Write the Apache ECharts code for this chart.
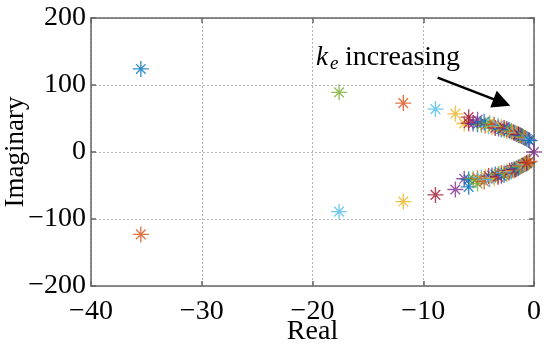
<!DOCTYPE html>
<html>
<head>
<meta charset="utf-8">
<script src="https://cdn.jsdelivr.net/npm/echarts@6/dist/echarts.min.js"></script>
<style>html,body{margin:0;padding:0;background:#fff}#c{width:550px;height:349px}</style>
</head>
<body>
<div id="c"></div>
<script>
// Step-by-step pole locations (k_e increasing); each step has two complex pairs
const fastRe   = [-35.5, -17.6, -11.8, -8.9, -7.1, -5.9, -5.1, -4.5, -4.0, -3.6, -3.25, -2.95, -2.7, -2.45, -2.25, -2.05, -1.85, -1.7, -1.55, -1.4, -1.25, -1.1, -0.95, -0.8, -0.65];
const fastImUp = [124, 89, 73, 64, 57, 52, 48, 45, 43, 41, 39, 37.5, 36, 34.5, 33, 31.5, 30, 29, 28, 26.5, 25, 24, 22.5, 21, 19.5];
const fastImLo = [-123, -89, -74, -64, -56, -52, -47, -44, -41, -39, -37, -35.5, -34, -32.5, -31, -29.5, -28, -26.5, -25, -23.5, -22, -20.5, -19, -17.5, -16];
const slowRe   = [-6.3, -5.9, -5.5, -5.1, -4.75, -4.4, -4.1, -3.8, -3.5, -3.2, -2.95, -2.7, -2.45, -2.2, -2.0, -1.8, -1.6, -1.4, -1.25, -1.1, -0.95, -0.8, -0.65, -0.5, -0.4];
const slowImUp = [42.5, 43, 42.5, 41.5, 40.5, 39.5, 38.5, 37, 36, 35, 34, 33, 32, 30.5, 29.5, 28.5, 27, 25.5, 24.5, 23.5, 22, 21, 19.5, 18, 17];
const slowImLo = [-40, -41, -40, -39, -38, -37, -36, -35, -33.5, -32.5, -31.5, -30.5, -29, -28, -27, -26, -24.5, -23, -22, -21, -19.5, -18, -17, -15.5, -14];
const originPole = [0, 0];

const xTicks = [-40, -30, -20, -10, 0];
const yTicks = [-200, -100, 0, 100, 200];

const palette = ['#0072BD','#D95319','#EDB120','#7E2F8E','#77AC30','#4DBEEE','#A2142F'];

const star = 'path://M0 9.15L20 9.15L20 10.85L0 10.85Z M9.15 0L10.85 0L10.85 20L9.15 20Z M4.59 3.39L16.61 15.41L15.41 16.61L3.39 4.59Z M4.59 16.61L3.39 15.41L15.41 3.39L16.61 4.59Z';

const pts = [];
for (let i = 0; i < fastRe.length; i++) {
  const base = 4 * i;
  pts.push({value: [fastRe[i], fastImUp[i]], itemStyle: {color: palette[base % 7]}});
  pts.push({value: [fastRe[i], fastImLo[i]], itemStyle: {color: palette[(base + 1) % 7]}});
  pts.push({value: [slowRe[i], slowImUp[i]], itemStyle: {color: palette[(base + 2) % 7]}});
  pts.push({value: [slowRe[i], slowImLo[i]], itemStyle: {color: palette[(base + 3) % 7]}});
}
pts.push({value: originPole, itemStyle: {color: palette[3]}});

const font = 'Liberation Serif';
const fmt = v => v < 0 ? '\u2212' + (-v) : String(v);
const axisLineStyle = {color: '#666', width: 1.5};

const chart = echarts.init(document.getElementById('c'), null, {renderer: 'canvas'});
chart.setOption({
  animation: false,
  grid: {left: 91, right: 16, top: 18, bottom: 63, containLabel: false, outerBoundsMode: 'none'},
  xAxis: [{
    type: 'value', min: xTicks[0], max: xTicks[xTicks.length - 1], interval: 10,
    name: 'Real', nameLocation: 'middle', nameGap: 32, nameMoveOverlap: false,
    nameTextStyle: {fontFamily: font, fontSize: 28, color: '#000'},
    axisLine: {show: true, onZero: false, lineStyle: axisLineStyle},
    axisTick: {show: true, inside: true, length: 5, lineStyle: axisLineStyle},
    axisLabel: {fontFamily: font, fontSize: 28, color: '#000', margin: 12, formatter: fmt},
    splitLine: {show: true, lineStyle: {color: '#b4b4b4', type: [2, 2], width: 1}}
  }, {
    type: 'value', position: 'top', min: xTicks[0], max: xTicks[xTicks.length - 1], interval: 10,
    axisLine: {show: true, onZero: false, lineStyle: axisLineStyle},
    axisTick: {show: true, inside: true, length: 5, lineStyle: axisLineStyle},
    axisLabel: {show: false}, splitLine: {show: false}
  }],
  yAxis: [{
    type: 'value', min: yTicks[0], max: yTicks[yTicks.length - 1], interval: 100,
    name: 'Imaginary', nameLocation: 'middle', nameGap: 62, nameMoveOverlap: false,
    nameTextStyle: {fontFamily: font, fontSize: 27, color: '#000'},
    axisLine: {show: true, onZero: false, lineStyle: axisLineStyle},
    axisTick: {show: true, inside: true, length: 5, lineStyle: axisLineStyle},
    axisLabel: {fontFamily: font, fontSize: 28, color: '#000', margin: 5, formatter: fmt},
    splitLine: {show: true, lineStyle: {color: '#b4b4b4', type: [2, 2], width: 1}}
  }, {
    type: 'value', position: 'right', min: yTicks[0], max: yTicks[yTicks.length - 1], interval: 100,
    axisLine: {show: true, onZero: false, lineStyle: axisLineStyle},
    axisTick: {show: true, inside: true, length: 5, lineStyle: axisLineStyle},
    axisLabel: {show: false}, splitLine: {show: false}
  }],
  series: [{
    type: 'scatter',
    symbol: star,
    symbolSize: 16,
    data: pts,
    markLine: {
      silent: true,
      symbol: ['none', 'triangle'],
      symbolSize: 18,
      lineStyle: {color: '#000', width: 2.5, type: 'solid'},
      itemStyle: {color: '#000'},
      label: {show: false},
      data: [[{coord: [-8.7, 111]}, {coord: [-2.9, 74]}]]
    }
  }],
  graphic: [
    {type: 'text', x: 316, y: 58, style: {text: 'k', font: 'italic 27px "Liberation Serif"', fill: '#000', verticalAlign: 'middle'}},
    {type: 'text', x: 330, y: 64, style: {text: 'e', font: 'italic 19px "Liberation Serif"', fill: '#000', verticalAlign: 'middle'}},
    {type: 'text', x: 345, y: 58, style: {text: 'increasing', font: '28px "Liberation Serif"', fill: '#000', verticalAlign: 'middle'}}
  ]
});
</script>
</body>
</html>
